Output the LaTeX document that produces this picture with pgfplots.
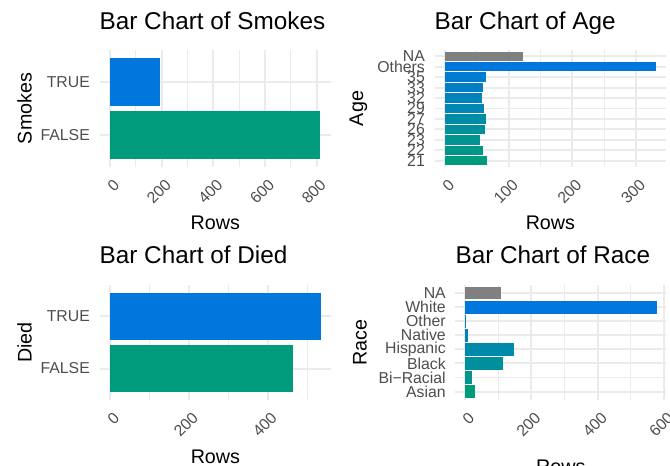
\documentclass[border=0pt]{standalone}
\usepackage{pgfplots}
\pgfplotsset{compat=1.18}
\usepackage{fontspec}
\setmainfont{Liberation Sans}
\definecolor{cteal}{RGB}{0,155,125}
\definecolor{cblue}{RGB}{0,119,221}
\definecolor{cna}{RGB}{128,128,128}
\definecolor{gridc}{RGB}{235,235,235}
\definecolor{tickc}{RGB}{77,77,77}
% gradient for Age (10 levels)
\colorlet{ag1}{cteal}
\colorlet{ag2}{cblue!11!cteal}
\colorlet{ag3}{cblue!22!cteal}
\colorlet{ag4}{cblue!33!cteal}
\colorlet{ag5}{cblue!44!cteal}
\colorlet{ag6}{cblue!56!cteal}
\colorlet{ag7}{cblue!67!cteal}
\colorlet{ag8}{cblue!78!cteal}
\colorlet{ag9}{cblue!89!cteal}
\colorlet{ag10}{cblue}
% gradient for Race (7 levels)
\colorlet{rc1}{cteal}
\colorlet{rc2}{cblue!17!cteal}
\colorlet{rc3}{cblue!33!cteal}
\colorlet{rc4}{cblue!50!cteal}
\colorlet{rc5}{cblue!67!cteal}
\colorlet{rc6}{cblue!83!cteal}
\colorlet{rc7}{cblue}
\pgfplotsset{
  rchart/.style={
    scale only axis,
    anchor=south west,
    clip=false,
    xbar, bar shift=0pt, bar width=0.9,
    every axis plot/.append style={draw=none, bar shift=0pt, bar width=0.9},
    enlargelimits=false,
    axis line style={draw=none},
    major tick length=0pt, minor tick length=0pt,
    xmajorgrids, xminorgrids, ymajorgrids,
    major grid style={gridc, line width=1.9bp},
    minor grid style={gridc, line width=0.95bp},
    /pgf/number format/assume math mode=true,
    tick label style={font=\fontsize{15.8bp}{16bp}\selectfont, color=tickc},
    xticklabel style={inner sep=0pt, xshift=2.5bp, yshift=-11bp, rotate=45, anchor=north east},
    yticklabel style={inner sep=0pt, anchor=east, xshift=-9.5bp},
    title style={font=\fontsize{24.3bp}{25bp}\selectfont, at={(0,1)}, anchor=base west, yshift=15bp, inner sep=0pt},
    xlabel style={font=\fontsize{19.7bp}{20bp}\selectfont, at={(0.5,0)}, anchor=base, inner sep=0pt, yshift=-63bp},
    xlabel=Rows,
  }
}
\newcommand{\ylab}[2]{\node[rotate=90, anchor=base, inner sep=0pt, font=\fontsize{19.7bp}{20bp}\selectfont] at ([xshift=#1]rel axis cs:0,0.5) {#2};}
\begin{document}
\begin{tikzpicture}
\useasboundingbox (0,0) rectangle (670bp,466bp);
% Smokes
\begin{axis}[rchart,
  at={(99.5bp,299bp)}, width=231.5bp, height=117bp,
  title={Bar Chart of Smokes},
  xmin=-40.75, xmax=855.75, ymin=0.4, ymax=2.6,
  xtick={0,200,400,600,800}, minor xtick={100,300,500,700},
  ytick={1,2}, yticklabels={FALSE,TRUE}]
\addplot[fill=cteal] coordinates {(815,1)};
\addplot[fill=cblue] coordinates {(193,2)};
\ylab{-67.8bp}{Smokes}
\end{axis}
% Age
\begin{axis}[rchart,
  at={(434.5bp,299bp)}, width=231.8bp, height=117bp,
  title={Bar Chart of Age},
  xmin=-16.55, xmax=347.55, ymin=0.4, ymax=11.6,
  xtick={0,100,200,300}, minor xtick={50,150,250},
  ytick={1,...,11}, yticklabels={21,22,23,26,27,29,32,33,35,Others,NA}]
\addplot[fill=ag1] coordinates {(66,1)};
\addplot[fill=ag2] coordinates {(60,2)};
\addplot[fill=ag3] coordinates {(55,3)};
\addplot[fill=ag4] coordinates {(63,4)};
\addplot[fill=ag5] coordinates {(64,5)};
\addplot[fill=ag6] coordinates {(61,6)};
\addplot[fill=ag7] coordinates {(58,7)};
\addplot[fill=ag8] coordinates {(60,8)};
\addplot[fill=ag9] coordinates {(64,9)};
\addplot[fill=ag10] coordinates {(331,10)};
\addplot[fill=cna] coordinates {(122,11)};
\ylab{-71.5bp}{Age}
\end{axis}
% Died
\begin{axis}[rchart,
  at={(99.5bp,66bp)}, width=231.8bp, height=115.3bp,
  title={Bar Chart of Died},
  xmin=-26.75, xmax=561.75, ymin=0.4, ymax=2.6,
  xtick={0,200,400}, minor xtick={100,300,500},
  ytick={1,2}, yticklabels={FALSE,TRUE}]
\addplot[fill=cteal] coordinates {(464,1)};
\addplot[fill=cblue] coordinates {(535,2)};
\ylab{-67.8bp}{Died}
\end{axis}
% Race
\begin{axis}[rchart,
  at={(455.4bp,66bp)}, width=210.7bp, height=115.3bp,
  title={Bar Chart of Race},
  xlabel style={yshift=-10.8bp},
  xmin=-28.85, xmax=605.85, ymin=0.4, ymax=8.6,
  xtick={0,200,400,600}, minor xtick={100,300,500},
  ytick={1,...,8}, yticklabels={Asian,Bi−Racial,Black,Hispanic,Native,Other,White,NA}]
\addplot[fill=rc1] coordinates {(30,1)};
\addplot[fill=rc2] coordinates {(21,2)};
\addplot[fill=rc3] coordinates {(114,3)};
\addplot[fill=rc4] coordinates {(148,4)};
\addplot[fill=rc5] coordinates {(9,5)};
\addplot[fill=rc6] coordinates {(3,6)};
\addplot[fill=rc7] coordinates {(577,7)};
\addplot[fill=cna] coordinates {(107,8)};
\ylab{-88.7bp}{Race}
\end{axis}
\end{tikzpicture}
\end{document}
